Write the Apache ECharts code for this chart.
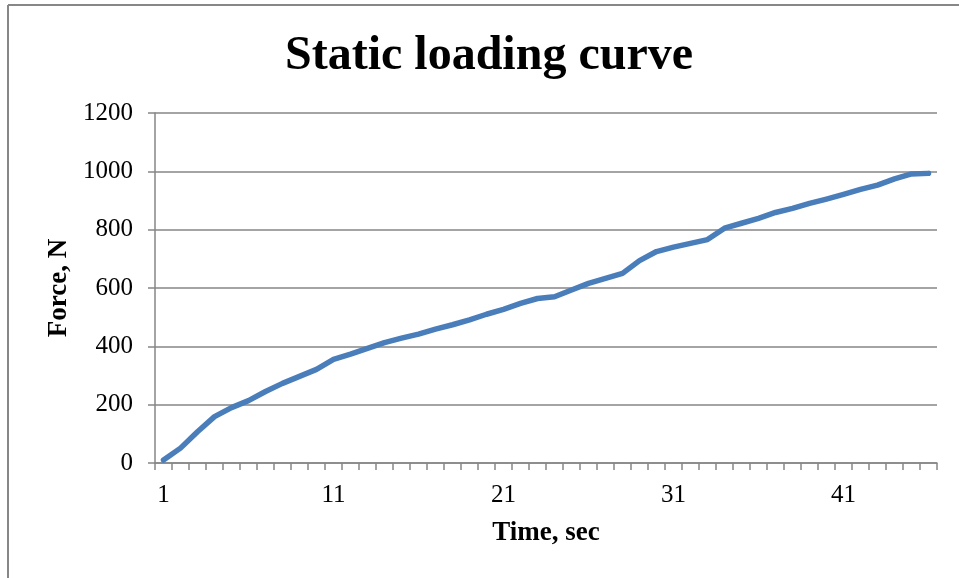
<!DOCTYPE html>
<html>
<head>
<meta charset="utf-8">
<script src="https://cdn.jsdelivr.net/npm/echarts@6/dist/echarts.min.js"></script>
<style>
  html, body { margin: 0; padding: 0; background: #ffffff; }
  #chart { width: 959px; height: 578px; }
</style>
</head>
<body>
<div id="chart"></div>
<script>
// Time samples (sec) along the horizontal axis
const timeSec = [];
for (let t = 1; t <= 46; t++) timeSec.push(String(t));

// Measured force (N) at each second
const forceN = [
  10, 51, 107, 159, 190, 214, 245, 273, 297, 321,
  355, 373, 393, 413, 428, 442, 459, 474, 491, 510,
  527, 547, 564, 570, 593, 616, 633, 650, 694, 725,
  740, 753, 766, 805, 822, 839, 859, 873, 890, 905,
  921, 938, 953, 974, 991, 993
];

// Y-axis range and step
const forceMin = 0;
const forceMax = 1200;
const forceStep = 200;

const serif = '"Liberation Serif", "Times New Roman", serif';
const gray = '#868686';

const chart = echarts.init(document.getElementById('chart'), null, { renderer: 'canvas' });

chart.setOption({
  backgroundColor: '#ffffff',
  animation: false,
  title: {
    text: 'Static loading curve',
    left: 484,
    top: 28,
    textAlign: 'center',
    textStyle: { fontFamily: serif, fontSize: 48, fontWeight: 'bold', color: '#000000' }
  },
  graphic: [
    { type: 'line', shape: { x1: 8, y1: 5, x2: 959, y2: 5 }, style: { stroke: '#878787', lineWidth: 2 } },
    { type: 'line', shape: { x1: 8, y1: 5, x2: 8, y2: 578 }, style: { stroke: '#878787', lineWidth: 2 } }
  ],
  grid: { left: 155, right: 22, top: 113, bottom: 115, containLabel: false },
  xAxis: {
    type: 'category',
    data: timeSec,
    boundaryGap: true,
    name: 'Time, sec',
    nameLocation: 'middle',
    nameGap: 57,
    nameTextStyle: { fontFamily: serif, fontSize: 27, fontWeight: 'bold', color: '#000000' },
    axisLine: { show: true, lineStyle: { color: gray, width: 1.5 } },
    axisTick: { show: true, interval: 0, length: 7, lineStyle: { color: gray, width: 1.5 } },
    axisLabel: { interval: 9, margin: 20, fontFamily: serif, fontSize: 25, color: '#000000' },
    splitLine: { show: false }
  },
  yAxis: {
    type: 'value',
    min: forceMin,
    max: forceMax,
    interval: forceStep,
    name: 'Force, N',
    nameLocation: 'middle',
    nameGap: 71,
    nameRotate: 90,
    nameTextStyle: { fontFamily: serif, fontSize: 27, fontWeight: 'bold', color: '#000000' },
    axisLine: { show: true, lineStyle: { color: gray, width: 1.5 } },
    axisTick: { show: true, length: 7, lineStyle: { color: gray, width: 1.5 } },
    axisLabel: {
      margin: 22, fontFamily: serif, fontSize: 25, color: '#000000',
      formatter: function (v) { return String(v); }
    },
    splitLine: { show: true, lineStyle: { color: gray, width: 1.5 } }
  },
  series: [{
    type: 'line',
    data: forceN,
    showSymbol: false,
    symbol: 'none',
    smooth: false,
    lineStyle: { color: '#4a7ebb', width: 5.5, cap: 'round', join: 'round' },
    z: 5
  }]
});
</script>
</body>
</html>
